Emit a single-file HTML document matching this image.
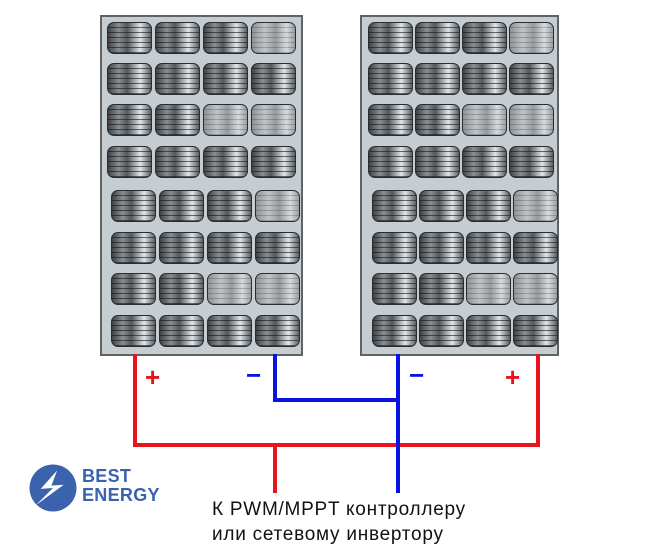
<!DOCTYPE html>
<html><head><meta charset="utf-8"><style>
body{margin:0;width:670px;height:557px;background:#fff;position:relative;overflow:hidden;font-family:"Liberation Sans",sans-serif}
.p{position:absolute;top:15px;height:337px;background:#c5cdd3;border:2px solid #5e6366}
.c{position:absolute;width:45px;height:32px;border:1px solid #2a2d30;border-radius:7px;box-sizing:border-box;
background:repeating-linear-gradient(180deg,rgba(0,0,0,0) 0 4px,rgba(20,20,20,.6) 4px 5px),
linear-gradient(90deg,#3f4345 0%,#8a8e91 25%,#55595c 45%,#e2e5e7 75%,#5a5e61 100%)}
.l{background:repeating-linear-gradient(180deg,rgba(0,0,0,0) 0 4px,rgba(60,60,60,.3) 4px 5px),
linear-gradient(90deg,#8f9396 0%,#c0c4c6 30%,#979b9e 55%,#d8dbdd 80%,#9a9ea1 100%)}
.w{position:absolute}
.r{background:#e8141c}.b{background:#0a14e0}
.t{position:absolute;font-size:19px;color:#111;letter-spacing:0.75px}
</style></head><body>
<div class="p" id="p1" style="left:100px;width:199px"></div>
<div class="p" id="p2" style="left:360px;width:195px"></div>
<div class="w r" style="left:133px;top:354px;width:4px;height:93px"></div>
<div class="w r" style="left:536px;top:354px;width:4px;height:93px"></div>
<div class="w r" style="left:133px;top:443px;width:407px;height:4px"></div>
<div class="w r" style="left:273px;top:443px;width:4px;height:50px"></div>
<div class="w b" style="left:273px;top:354px;width:4px;height:48px"></div>
<div class="w b" style="left:273px;top:398px;width:125px;height:4px"></div>
<div class="w b" style="left:396px;top:354px;width:4px;height:139px"></div>
<div class="t" style="left:145px;top:362px;color:#e8141c;font-size:26px;font-weight:bold">+</div>
<div class="t" style="left:246px;top:360px;color:#0a14e0;font-size:26px;font-weight:bold">−</div>
<div class="t" style="left:409px;top:360px;color:#0a14e0;font-size:26px;font-weight:bold">−</div>
<div class="t" style="left:505px;top:362px;color:#e8141c;font-size:26px;font-weight:bold">+</div>
<div class="t" style="left:212px;top:499px">К PWM/MPPT контроллеру</div>
<div class="t" style="left:212px;top:524px">или сетевому инвертору</div>
<svg style="position:absolute;left:29px;top:464px" width="50" height="50" viewBox="0 0 50 50">
<circle cx="24" cy="24" r="23.5" fill="#3b62ad"/>
<path d="M25 6 L12 27 L24 24 L10 44 L34 19 L22 22 Z" fill="#fff" transform="rotate(10 24 24)"/>
</svg>
<div class="t" style="left:82px;top:467px;color:#3b62ad;font-weight:bold;font-size:18px;line-height:19px;letter-spacing:0.3px">BEST<br>ENERGY</div>
<script>
var rows=[22,63,104,146,190,232,273,315];
var light1={"0,3":1,"2,2":1,"2,3":1,"4,3":1,"6,2":1,"6,3":1};
function fill(id,left){
 var p=document.getElementById(id),h="";
 rows.forEach(function(y,ri){
  var off=ri>=4?4:0;
  for(var c=0;c<4;c++){
   var x=left+off+c*48-(id=="p2"?1*c:0);
   h+='<div class="c'+(light1[ri+","+c]?' l':'')+'" style="left:'+(x-2)+'px;top:'+(y-17)+'px"></div>';
  }
 });
 p.innerHTML=h;
}
fill("p1",7);fill("p2",8);
</script>
</body></html>
